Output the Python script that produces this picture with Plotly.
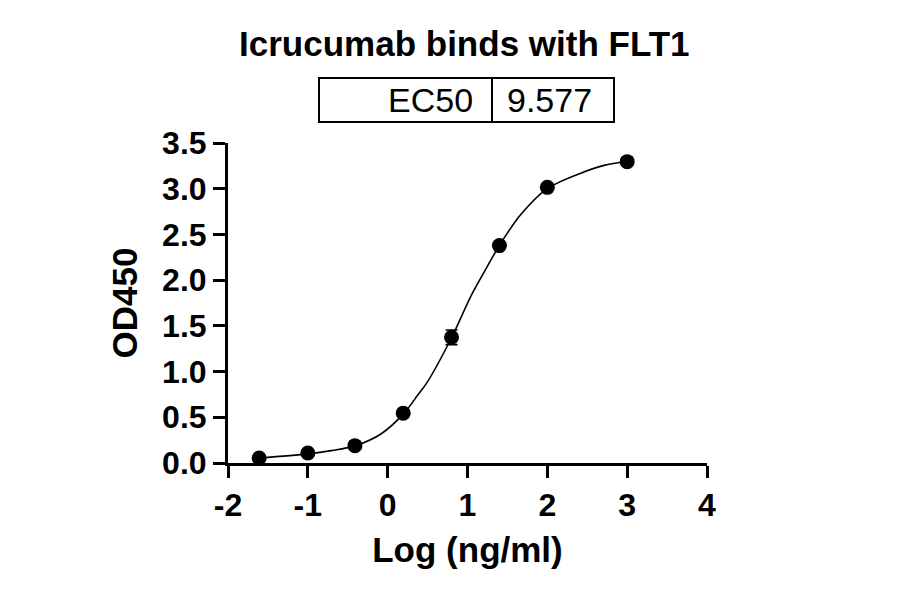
import plotly.graph_objects as go

# measured points (log concentration vs OD450)
log_conc = [-1.61, -1.0, -0.41, 0.195, 0.80, 1.40, 2.0, 3.0]
od450 = [0.055, 0.11, 0.19, 0.545, 1.375, 2.378, 3.015, 3.296]
od_err = [0.0, 0.0, 0.0, 0.0, 0.08, 0.0, 0.0, 0.0]

# fitted curve
fit_x = [-1.61, -1.0, -0.71, -0.4, -0.08, 0.2, 0.375, 0.5, 0.8, 1.04, 1.21, 1.4,
         1.67, 2.0, 2.42, 2.71, 3.0]
fit_y = [0.055, 0.10, 0.135, 0.19, 0.32, 0.54, 0.74, 0.89, 1.37, 1.82, 2.09, 2.38,
         2.72, 3.0, 3.17, 3.255, 3.30]

x_ticks = [-2, -1, 0, 1, 2, 3, 4]
y_ticks = [0.0, 0.5, 1.0, 1.5, 2.0, 2.5, 3.0, 3.5]

ec50_label = 'EC50'
ec50_value = '9.577'

font = 'Liberation Sans'

# plot area in figure pixels (left, top, width, height)
L, T, W, H = 220, 135, 479, 320


def px(x):
    return (x - L) / W


def py(y):
    return (T + H - y) / H


fig = go.Figure()

fig.add_trace(go.Scatter(x=fit_x, y=fit_y, mode='lines',
                         line=dict(color='black', width=1.6, shape='spline', smoothing=0.9),
                         hoverinfo='skip', showlegend=False))

fig.add_trace(go.Scatter(x=log_conc, y=od450, mode='markers',
                         marker=dict(color='black', size=15),
                         error_y=dict(type='data', array=od_err, color='black',
                                      thickness=1.6, width=6),
                         showlegend=False))

fig.update_layout(
    width=900, height=594,
    paper_bgcolor='white', plot_bgcolor='white',
    margin=dict(l=L, r=900 - L - W, t=T, b=594 - T - H),
    title=dict(text='<b>Icrucumab binds with FLT1</b>', x=0.507, xanchor='center',
               y=0.939, yanchor='middle',
               font=dict(family=font, size=35, color='black')),
    font=dict(family=font, color='black'),
)

fig.update_xaxes(range=[-2, 4], tickvals=x_ticks,
                 ticktext=[f'<b>{v}</b>' for v in x_ticks],
                 showgrid=False, zeroline=False, showline=True,
                 linecolor='black', linewidth=3,
                 ticks='outside', ticklen=12, tickwidth=3, tickcolor='black',
                 tickfont=dict(size=32, color='black'),
                 title=dict(text='<b>Log (ng/ml)</b>', font=dict(size=35), standoff=16))

fig.update_yaxes(range=[0, 3.5], tickvals=y_ticks,
                 ticktext=[f'<b>{v:.1f}</b>' for v in y_ticks],
                 showgrid=False, zeroline=False, showline=True,
                 linecolor='black', linewidth=3,
                 ticks='outside', ticklen=12, tickwidth=3, tickcolor='black',
                 tickfont=dict(size=32, color='black'),
                 title=dict(text='<b>OD450</b>', font=dict(size=35), standoff=14))

# EC50 box above the plot
fig.add_shape(type='rect', xref='paper', yref='paper',
              x0=px(311), x1=px(606), y0=py(114), y1=py(70),
              line=dict(color='black', width=2))
fig.add_shape(type='line', xref='paper', yref='paper',
              x0=px(484), x1=px(484), y0=py(114), y1=py(70),
              line=dict(color='black', width=2))
fig.add_annotation(text=ec50_label, xref='paper', yref='paper',
                   x=px(467), xanchor='right', y=py(92), yanchor='middle',
                   showarrow=False, font=dict(family=font, size=34, color='black'))
fig.add_annotation(text=ec50_value, xref='paper', yref='paper',
                   x=px(497), xanchor='left', y=py(92), yanchor='middle',
                   showarrow=False, font=dict(family=font, size=34, color='black'))

fig.write_html('out.html')
